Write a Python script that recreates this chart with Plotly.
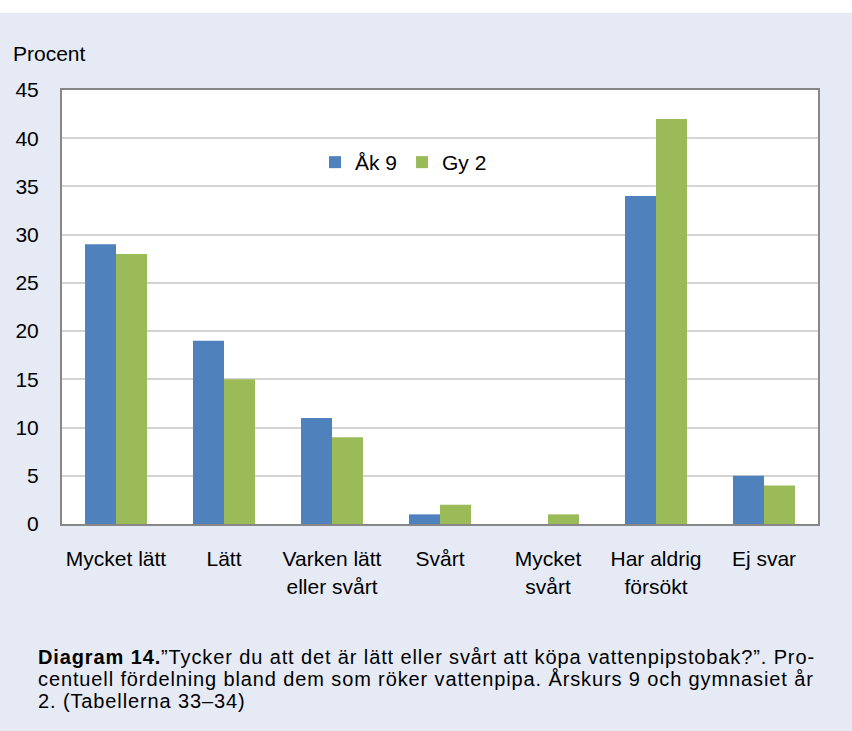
import plotly.graph_objects as go

categories = ["Mycket lätt", "Lätt", "Varken lätt<br>eller svårt", "Svårt", "Mycket<br>svårt", "Har aldrig<br>försökt", "Ej svar"]
ak9 = [29, 19, 11, 1, 0, 34, 5]
gy2 = [28, 15, 9, 2, 1, 42, 4]
series_names = ["Åk 9", "Gy 2"]
y_ticks = [0, 5, 10, 15, 20, 25, 30, 35, 40, 45]
caption_lines = [
    "<b>Diagram 14.</b>\u201dTycker du att det är lätt eller svårt att köpa vattenpipstobak?\u201d. Pro-",
    "centuell fördelning bland dem som röker vattenpipa. Årskurs 9 och gymnasiet år",
    "2. (Tabellerna 33\u201334)",
]

BG = "#E6EAF5"
FONT = "Liberation Sans, Arial, sans-serif"

fig = go.Figure()
fig.add_trace(go.Bar(x=categories, y=ak9, name=series_names[0],
                     marker=dict(color="#4F81BD", line=dict(width=0))))
fig.add_trace(go.Bar(x=categories, y=gy2, name=series_names[1],
                     marker=dict(color="#9BBB59", line=dict(width=0))))

L, R, T, B = 62, 34, 90, 207
W, H = 852, 731
pw, ph = W - L - R, H - T - B


def px_x(x):
    return (x - L) / pw


def px_y(y):
    return (H - B - y) / ph


fig.update_layout(
    width=W, height=H,
    margin=dict(l=L, r=R, t=T, b=B),
    paper_bgcolor=BG, plot_bgcolor="white",
    barmode="group", bargap=0.426, bargroupgap=0,
    font=dict(family=FONT, size=21, color="black"),
    showlegend=True,
    legend=dict(orientation="h", x=px_x(315), y=px_y(142),
                xanchor="left", yanchor="top", bgcolor="rgba(0,0,0,0)",
                font=dict(size=21), traceorder="normal"),
    xaxis=dict(showline=True, linecolor="#878787", linewidth=2, mirror=True,
               ticks="", ticklabelstandoff=15, tickfont=dict(size=21)),
    yaxis=dict(range=[0, 45], tickvals=y_ticks, showline=True, linecolor="#878787",
               linewidth=2, mirror=True, gridcolor="#D4D4D4", gridwidth=1.5,
               ticks="", ticklabelstandoff=17, tickfont=dict(size=21), zeroline=False),
)

fig.add_shape(type="rect", xref="paper", yref="paper",
              x0=-0.2, x1=1.2, y0=px_y(13), y1=px_y(-5),
              fillcolor="white", line=dict(width=0), layer="below")

fig.add_annotation(text="Procent", xref="paper", yref="paper",
                   x=px_x(11), y=px_y(54), xanchor="left", yanchor="middle",
                   showarrow=False, font=dict(size=21))

for i, line in enumerate(caption_lines):
    fig.add_annotation(text='<span style="letter-spacing:0.88px">' + line + '</span>',
                       xref="paper", yref="paper",
                       x=px_x(36), y=px_y(657 + 22 * i), xanchor="left", yanchor="middle",
                       align="left", showarrow=False,
                       font=dict(size=20, family=FONT))

fig.write_html("out.html", config={"displayModeBar": False},
               post_script="document.body.style.margin='0';")
